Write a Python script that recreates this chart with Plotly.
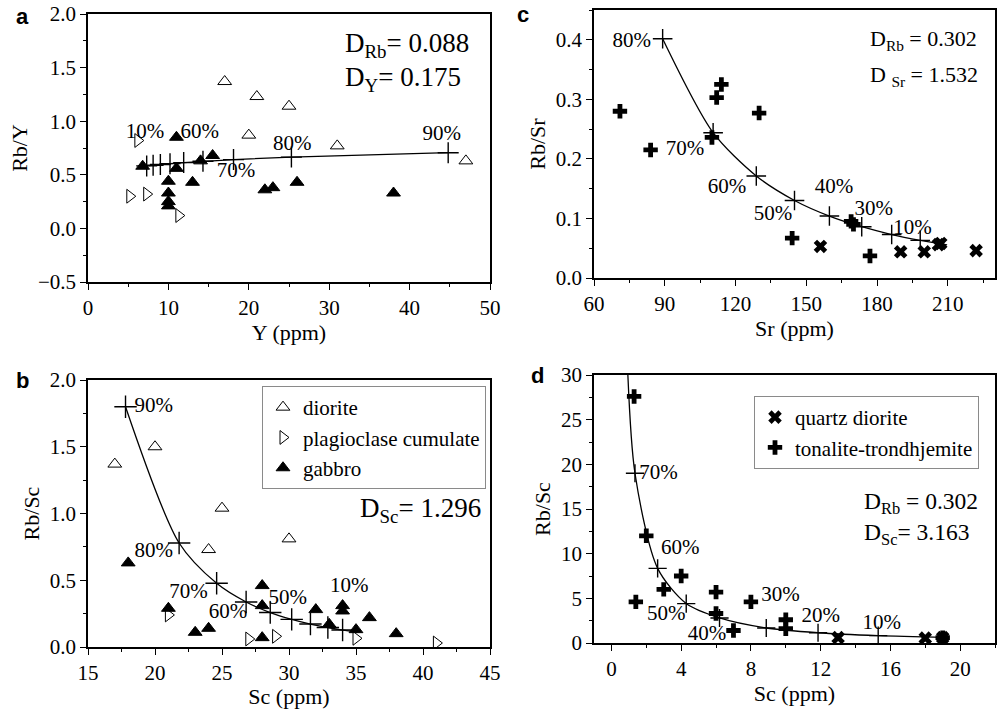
import plotly.graph_objects as go

# ---------------- data ----------------
# panel a : Y (ppm) vs Rb/Y
a_dio_x = [17, 21, 25, 20, 31, 47]
a_dio_y = [1.37, 1.23, 1.14, 0.87, 0.77, 0.63]
a_plag_x = [6.2, 5.2, 7.3, 11.3]
a_plag_y = [0.82, 0.30, 0.32, 0.12]
a_gab_x = [6.8, 11, 11, 14, 15.5, 10, 13, 10, 10, 10, 22, 23, 26, 38]
a_gab_y = [0.58, 0.85, 0.56, 0.63, 0.68, 0.44, 0.43, 0.33, 0.25, 0.21, 0.36, 0.38, 0.43, 0.33]
a_model_x = [6.7, 7.3, 8.1, 9.0, 10.2, 11.9, 14.3, 18.1, 25.3, 44.8]
a_model_y = [0.578, 0.583, 0.589, 0.596, 0.604, 0.614, 0.626, 0.642, 0.665, 0.706]
a_lab_text = ["10%", "60%", "70%", "80%", "90%"]
a_lab_x = [7.1, 13.9, 18.4, 25.4, 44.0]
a_lab_y = [0.89, 0.89, 0.53, 0.78, 0.87]

# panel b : Sc (ppm) vs Rb/Sc
b_dio_x = [17, 20, 25, 24, 30]
b_dio_y = [1.37, 1.50, 1.04, 0.73, 0.81]
b_plag_x = [21, 27, 29, 35, 41]
b_plag_y = [0.24, 0.06, 0.08, 0.065, 0.03]
b_gab_x = [18, 21, 23, 24, 28, 28, 28, 32, 33, 34, 34, 35, 36, 38]
b_gab_y = [0.63, 0.29, 0.11, 0.14, 0.46, 0.31, 0.07, 0.28, 0.17, 0.31, 0.27, 0.13, 0.22, 0.10]
b_model_x = [35.1, 34.0, 32.9, 31.6, 30.2, 28.6, 26.8, 24.6, 21.8, 17.8]
b_model_y = [0.112, 0.127, 0.146, 0.172, 0.207, 0.258, 0.337, 0.477, 0.779, 1.80]
b_lab_text = ["90%", "80%", "70%", "60%", "50%", "10%"]
b_lab_x = [19.9, 19.9, 22.5, 25.45, 29.9, 34.5]
b_lab_y = [1.80, 0.71, 0.41, 0.257, 0.36, 0.45]

# panel c : Sr (ppm) vs Rb/Sr
c_qd_x = [156, 190, 200, 206, 207, 222]
c_qd_y = [0.053, 0.044, 0.044, 0.056, 0.058, 0.046]
c_tt_x = [71, 84, 110, 112, 114, 130, 144, 169, 170, 177]
c_tt_y = [0.28, 0.215, 0.236, 0.303, 0.325, 0.277, 0.067, 0.095, 0.09, 0.037]
c_model_x = [209.7, 198.3, 186.2, 173.5, 159.8, 145.0, 128.8, 110.5, 89.1]
c_model_y = [0.0555, 0.0632, 0.0730, 0.0861, 0.1040, 0.1302, 0.1713, 0.2440, 0.4017]
c_lab_text = ["80%", "70%", "60%", "50%", "40%", "30%", "10%"]
c_lab_x = [76, 98.6, 116.4, 135.9, 161.7, 178.6, 195]
c_lab_y = [0.397, 0.215, 0.151, 0.106, 0.151, 0.115, 0.0835]

# panel d : Sc (ppm) vs Rb/Sc
d_qd_x = [13, 18, 19]
d_qd_y = [0.6, 0.55, 0.6]
d_tt_x = [1.3, 2, 4, 3, 1.4, 6, 6, 8, 7, 10, 10, 19]
d_tt_y = [27.6, 12, 7.5, 6.0, 4.6, 5.7, 3.3, 4.6, 1.4, 2.6, 1.6, 0.6]
d_model_x = [19.2, 15.3, 11.85, 8.88, 6.2, 4.29, 2.65, 1.35, 0.9]
d_model_y = [0.607, 0.82, 1.15, 1.68, 2.8, 4.41, 8.35, 19.0, 32.0]
d_lab_text = ["70%", "60%", "50%", "40%", "30%", "20%", "10%"]
d_lab_x = [2.7, 3.95, 3.15, 5.48, 9.69, 12.0, 15.5]
d_lab_y = [18.9, 10.6, 3.13, 0.9, 5.26, 2.94, 2.2]

# ---------------- figure ----------------
SERIF = "Liberation Serif"
SANS = "Liberation Sans"
fig = go.Figure()


def samples(ax, x, y, name, symbol, size, legend=None, lw=1.0):
    fig.add_trace(go.Scatter(
        x=x, y=y, mode="markers", name=name, xaxis="x" + ax, yaxis="y" + ax,
        marker=dict(symbol=symbol, size=size, color="black",
                    line=dict(color="black", width=lw)),
        showlegend=legend is not None, legend=legend or "legend"))


def model(ax, x, y, n_cross, shape="linear", csize=14):
    fig.add_trace(go.Scatter(
        x=x, y=y, mode="lines", xaxis="x" + ax, yaxis="y" + ax, showlegend=False,
        line=dict(color="black", width=1.3, shape=shape, smoothing=0.8)))
    fig.add_trace(go.Scatter(
        x=x[1:1 + n_cross], y=y[1:1 + n_cross], mode="markers",
        xaxis="x" + ax, yaxis="y" + ax, showlegend=False,
        marker=dict(symbol="cross-thin", size=csize, color="black",
                    line=dict(color="black", width=1.4))))


def labels(ax, x, y, t):
    fig.add_trace(go.Scatter(
        x=x, y=y, text=t, mode="text", xaxis="x" + ax, yaxis="y" + ax,
        showlegend=False, textfont=dict(family=SERIF, size=21, color="black")))


# panel b (first so legend order is right)
samples("2", b_dio_x, b_dio_y, "diorite", "triangle-up-open", 12, legend="legend")
samples("2", b_plag_x, b_plag_y, "plagioclase cumulate", "triangle-right-open", 12, legend="legend")
samples("2", b_gab_x, b_gab_y, "gabbro", "triangle-up", 12, legend="legend")
model("2", b_model_x, b_model_y, 9, shape="spline", csize=16)
labels("2", b_lab_x, b_lab_y, b_lab_text)

# panel a
samples("", a_dio_x, a_dio_y, "diorite", "triangle-up-open", 12)
samples("", a_plag_x, a_plag_y, "plagioclase cumulate", "triangle-right-open", 12)
samples("", a_gab_x, a_gab_y, "gabbro", "triangle-up", 12)
model("", a_model_x, a_model_y, 9, csize=15)
labels("", a_lab_x, a_lab_y, a_lab_text)

# panel d
samples("4", d_qd_x, d_qd_y, "quartz diorite", "x", 12, legend="legend2", lw=0)
samples("4", d_tt_x, d_tt_y, "tonalite-trondhjemite", "cross", 12, legend="legend2", lw=0)
model("4", d_model_x, d_model_y, 7, shape="spline", csize=13)
labels("4", d_lab_x, d_lab_y, d_lab_text)

# panel c
samples("3", c_qd_x, c_qd_y, "quartz diorite", "x", 12, lw=0)
samples("3", c_tt_x, c_tt_y, "tonalite-trondhjemite", "cross", 12, lw=0)
model("3", c_model_x, c_model_y, 8, shape="spline", csize=14)
labels("3", c_lab_x, c_lab_y, c_lab_text)

W, H = 1000, 709


def px_x(p):
    return p / W


def px_y(p):
    return 1 - p / H


def axis(dom, rng, dtick, minor, title, anchor, fmt=None):
    d = dict(domain=dom, range=rng, dtick=dtick, tick0=0,
             ticks="outside", ticklen=6, tickwidth=1.3, tickcolor="black",
             minor=dict(dtick=minor, ticks="outside", ticklen=3.5, tickwidth=1.3, tickcolor="black"),
             showline=True, linecolor="black", linewidth=1.6, mirror=True,
             showgrid=False, zeroline=False, anchor=anchor, automargin=False,
             tickfont=dict(family=SERIF, size=21, color="black"),
             title=dict(text=title, font=dict(family=SERIF, size=22, color="black"), standoff=4))
    if fmt:
        d["tickformat"] = fmt
    return d


xa_dom = [px_x(88), px_x(490)]
xc_dom = [px_x(594), px_x(995)]
ya_dom = [px_y(282), px_y(14)]
yb_dom = [px_y(647), px_y(380)]
yc_dom = [px_y(278), px_y(10)]
yd_dom = [px_y(643), px_y(375)]

fig.update_layout(
    width=W, height=H, margin=dict(l=0, r=0, t=0, b=0),
    paper_bgcolor="white", plot_bgcolor="white",
    font=dict(family=SERIF, size=21, color="black"),
    xaxis=axis(xa_dom, [0, 50], 10, 5, "Y (ppm)", "y"),
    yaxis=axis(ya_dom, [-0.5, 2.0], 0.5, 0.25, "Rb/Y", "x", ".1f"),
    xaxis2=axis(xa_dom, [15, 45], 5, 2.5, "Sc (ppm)", "y2"),
    yaxis2=axis(yb_dom, [0, 2.0], 0.5, 0.25, "Rb/Sc", "x2", ".1f"),
    xaxis3=axis(xc_dom, [60, 230], 30, 15, "Sr (ppm)", "y3"),
    yaxis3=axis(yc_dom, [0, 0.45], 0.1, 0.05, "Rb/Sr", "x3", ".1f"),
    xaxis4=axis(xc_dom, [-1, 22], 4, 2, "Sc (ppm)", "y4"),
    yaxis4=axis(yd_dom, [0, 30], 5, 2.5, "Rb/Sc", "x4"),
    legend=dict(x=px_x(262), y=px_y(386), xanchor="left", yanchor="top",
                bgcolor="white", bordercolor="#8a8a8a", borderwidth=1,
                font=dict(family=SERIF, size=21, color="black"), itemwidth=30),
    legend2=dict(x=px_x(754), y=px_y(396), xanchor="left", yanchor="top",
                 bgcolor="white", bordercolor="#8a8a8a", borderwidth=1,
                 font=dict(family=SERIF, size=21, color="black"), itemwidth=30),
)

ann = []


def note(x, y, text, size, family=SERIF, xanchor="left"):
    ann.append(dict(x=px_x(x), y=px_y(y), xref="paper", yref="paper", text=text,
                    showarrow=False, xanchor=xanchor, yanchor="middle",
                    font=dict(family=family, size=size, color="black")))


note(343, 45, "D<sub>Rb</sub>= 0.088", 27)
note(343, 79, "D<sub>Y</sub>= 0.175", 27)
note(358, 510, "D<sub>Sc</sub>= 1.296", 27)
note(868, 40, "D<sub>Rb</sub> = 0.302", 22)
note(868, 76, "D <sub>Sr</sub> = 1.532", 22)
note(862, 503, "D<sub>Rb</sub> = 0.302", 23.5)
note(862, 534, "D<sub>Sc</sub>= 3.163", 23.5)
note(22, 17, "<b>a</b>", 22, SANS, "center")
note(22, 380, "<b>b</b>", 22, SANS, "center")
note(523, 15, "<b>c</b>", 22, SANS, "center")
note(537, 376, "<b>d</b>", 22, SANS, "center")
fig.update_layout(annotations=ann)

fig.write_html("out.html")
